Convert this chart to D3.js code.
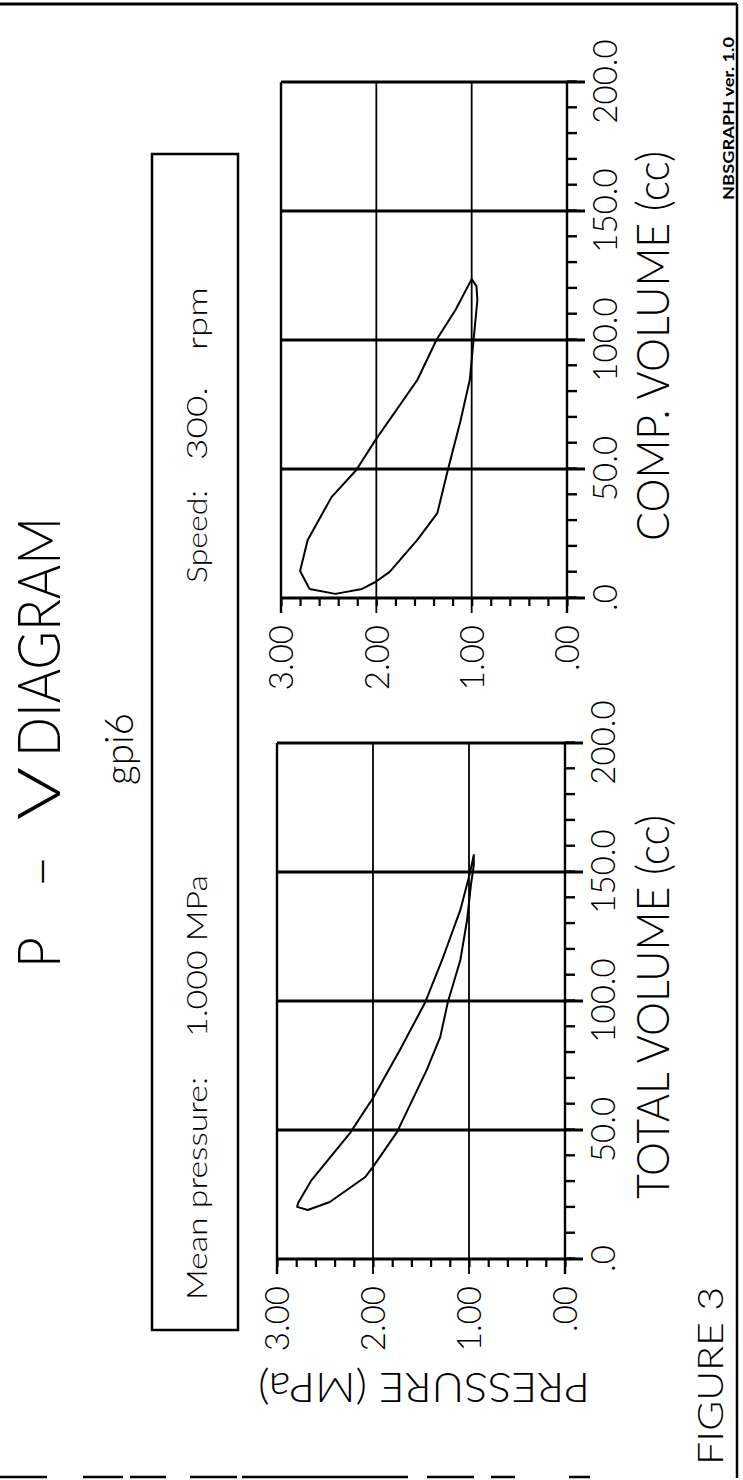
<!DOCTYPE html>
<html>
<head>
<meta charset="utf-8">
<script src="https://cdn.jsdelivr.net/npm/d3@7"></script>
<style>
  html, body { margin: 0; padding: 0; background: #fff; }
  svg { display: block; }
  text { font-family: Lato, "Liberation Sans", Arial, sans-serif; font-weight: 300; fill: #000; }
</style>
</head>
<body>
<script>
// ----------------
// chart data
// ----------------

var volumeTicks = [0, 50, 100, 150, 200];
var volumeTickLabels = ['.0', '50.0', '100.0', '150.0', '200.0'];
var pressureTicks = [0, 1, 2, 3];
var pressureTickLabels = ['.00', '1.00', '2.00', '3.00'];

// total volume loop (cc, MPa)
var totalVolume = [156.6, 149.6, 135.3, 115.9, 99.2, 81.0, 62.4, 48.8, 30.6, 21.7, 20.2,
  19.0, 22.1, 31.8, 35.7, 49.2, 73.3, 86.0, 99.6, 115.9, 131.4, 145.0, 152.7];
var totalPressure = [0.95, 0.99, 1.09, 1.28, 1.46, 1.72, 2.00, 2.24, 2.64, 2.78, 2.79,
  2.68, 2.45, 2.08, 2.00, 1.75, 1.44, 1.30, 1.22, 1.09, 1.02, 0.98, 0.95];

// compression volume loop (cc, MPa)
var compVolume = [123.6, 111.6, 100.0, 84.5, 61.2, 49.6, 39.1, 22.5, 10.5, 3.5, 1.6,
  3.5, 6.2, 10.1, 22.5, 32.9, 49.6, 68.2, 84.5, 100.0, 115.5, 120.9];
var compPressure = [1.00, 1.17, 1.37, 1.57, 2.01, 2.21, 2.47, 2.72, 2.80, 2.70, 2.43,
  2.15, 2.01, 1.86, 1.57, 1.36, 1.25, 1.12, 1.02, 0.98, 0.94, 0.95];

// ----------------
// page layout
// ----------------

var W = 743, H = 1480;

var svg = d3.select('body').append('svg')
  .attr('width', W)
  .attr('height', H);

svg.append('rect').attr('width', W).attr('height', H).attr('fill', '#fff');

// outer frame (page coordinates)
svg.append('line').attr('x1', 0).attr('y1', 4).attr('x2', 737).attr('y2', 4)
  .attr('stroke', '#000').attr('stroke-width', 3);
svg.append('line').attr('x1', 737).attr('y1', 4).attr('x2', 737).attr('y2', 1478)
  .attr('stroke', '#000').attr('stroke-width', 2.5);
svg.append('line').attr('x1', 0).attr('y1', 1477).attr('x2', 590).attr('y2', 1477)
  .attr('stroke', '#000').attr('stroke-width', 2.5)
  .attr('stroke-dasharray', '47,36,40,7,36,24,47,5,166,19,47,17,24,54,21,300');

// info box
svg.append('rect')
  .attr('x', 152).attr('y', 154).attr('width', 86).attr('height', 1176)
  .attr('fill', 'none').attr('stroke', '#000').attr('stroke-width', 2.5);

// the whole drawing is turned a quarter turn: local x = H - pageY, local y = pageX
var root = svg.append('g').attr('transform', 'translate(0,' + H + ') rotate(-90)');

// text helper in the local frame
var label = function (str, x, y, size, len, anchor, weight) {
  var t = root.append('text')
    .attr('x', x)
    .attr('y', y)
    .attr('font-size', size)
    .attr('text-anchor', anchor || 'start')
    .text(str);
  if (weight) {
    t.style('font-weight', weight);
  }
  if (len) {
    t.attr('textLength', len).attr('lengthAdjust', 'spacingAndGlyphs');
  }
  return t;
};

// title block: P - V DIAGRAM
label('P', 512, 60, 60, 31);
label('\u2014', 595, 60, 60, 27);
label('V', 660, 60, 60, 53);
label('DIAGRAM', 723, 60, 60, 240);
label('gpi6', 731, 133, 40, 72, 'middle');

// box text
label('Mean pressure:', 180, 207, 28, 223);
label('1.000 MPa', 443, 207, 28, 162);
label('Speed:', 897, 207, 28, 93);
label('300.', 1020, 207, 28, 73);
label('rpm', 1130, 207, 28, 63);

// footer
label('FIGURE 3', 15, 723, 36, 178);
label('NBSGRAPH ver. 1.0', 1280, 734, 15, 163, 'start', 'bold')
  .attr('font-family', '"Liberation Sans", Arial, sans-serif');

// pressure axis title (only on the total volume panel)
root.append('text')
  .attr('transform', 'translate(107,424) rotate(-90)')
  .attr('font-size', 42)
  .attr('text-anchor', 'middle')
  .attr('textLength', 332)
  .attr('lengthAdjust', 'spacingAndGlyphs')
  .text('PRESSURE (MPa)');

// ----------------
// panels
// ----------------

var panels = [
  { title: 'TOTAL VOLUME (cc)', titleLen: 384, xr: [221, 737], yr: [565, 277], vol: totalVolume, pres: totalPressure },
  { title: 'COMP. VOLUME (cc)', titleLen: 390, xr: [882, 1398], yr: [567, 281], vol: compVolume, pres: compPressure }
];

var drawPanel = function (p) {
  var x = d3.scaleLinear().domain([0, 200]).range(p.xr);
  var y = d3.scaleLinear().domain([0, 3]).range(p.yr);
  var g = root.append('g').attr('class', 'panel');

  // volume grid lines (heavy), run a little past the zero pressure line
  g.selectAll('line.vgrid').data(volumeTicks).join('line')
    .attr('class', 'vgrid')
    .attr('x1', function (d) { return x(d); })
    .attr('x2', function (d) { return x(d); })
    .attr('y1', y(3))
    .attr('y2', y(0) + 18)
    .attr('stroke', '#000')
    .attr('stroke-width', 3);

  // pressure grid lines, run a little past the zero volume line
  g.selectAll('line.pgrid').data(pressureTicks).join('line')
    .attr('class', 'pgrid')
    .attr('x1', x(0) - 15)
    .attr('x2', x(200))
    .attr('y1', function (d) { return y(d); })
    .attr('y2', function (d) { return y(d); })
    .attr('stroke', '#000')
    .attr('stroke-width', function (d) { return d === 0 || d === 3 ? 2.4 : 1.8; });

  // minor volume ticks
  g.append('g')
    .attr('transform', 'translate(0,' + y(0) + ')')
    .call(d3.axisBottom(x).tickValues(d3.range(0, 201, 10)).tickSize(10).tickFormat(''))
    .call(function (a) {
      a.select('.domain').remove();
      a.selectAll('line').attr('stroke-width', 2.4);
    });

  // volume tick labels
  g.append('g')
    .attr('transform', 'translate(0,' + y(0) + ')')
    .call(d3.axisBottom(x).tickValues(volumeTicks).tickSize(0).tickPadding(27)
      .tickFormat(function (d, i) { return volumeTickLabels[i]; }))
    .call(function (a) {
      a.select('.domain').remove();
      a.selectAll('text').attr('font-size', 33).attr('font-family', null).attr('fill', '#000');
    });

  // minor pressure ticks
  g.append('g')
    .attr('transform', 'translate(' + x(0) + ',0)')
    .call(d3.axisLeft(y).tickValues(d3.range(0, 3.001, 0.2)).tickSize(8).tickFormat(''))
    .call(function (a) {
      a.select('.domain').remove();
      a.selectAll('line').attr('stroke-width', 2.2);
    });

  // pressure tick labels
  g.append('g')
    .attr('transform', 'translate(' + x(0) + ',0)')
    .call(d3.axisLeft(y).tickValues(pressureTicks).tickSize(0).tickPadding(27)
      .tickFormat(function (d, i) { return pressureTickLabels[i]; }))
    .call(function (a) {
      a.select('.domain').remove();
      a.selectAll('text').attr('font-size', 33).attr('font-family', null).attr('fill', '#000')
        .attr('dy', '0.36em');
    });

  // axis title
  label(p.title, (x(0) + x(200)) / 2 - 6, 669, 46, p.titleLen, 'middle');

  // P-V loop
  var pts = p.vol.map(function (v, i) { return [v, p.pres[i]]; });
  var line = d3.line()
    .x(function (d) { return x(d[0]); })
    .y(function (d) { return y(d[1]); })
    .curve(d3.curveLinearClosed);

  g.append('path')
    .datum(pts)
    .attr('d', line)
    .attr('fill', 'none')
    .attr('stroke', '#000')
    .attr('stroke-width', 2)
    .attr('stroke-linejoin', 'round');
};

panels.forEach(drawPanel);
</script>
</body>
</html>
